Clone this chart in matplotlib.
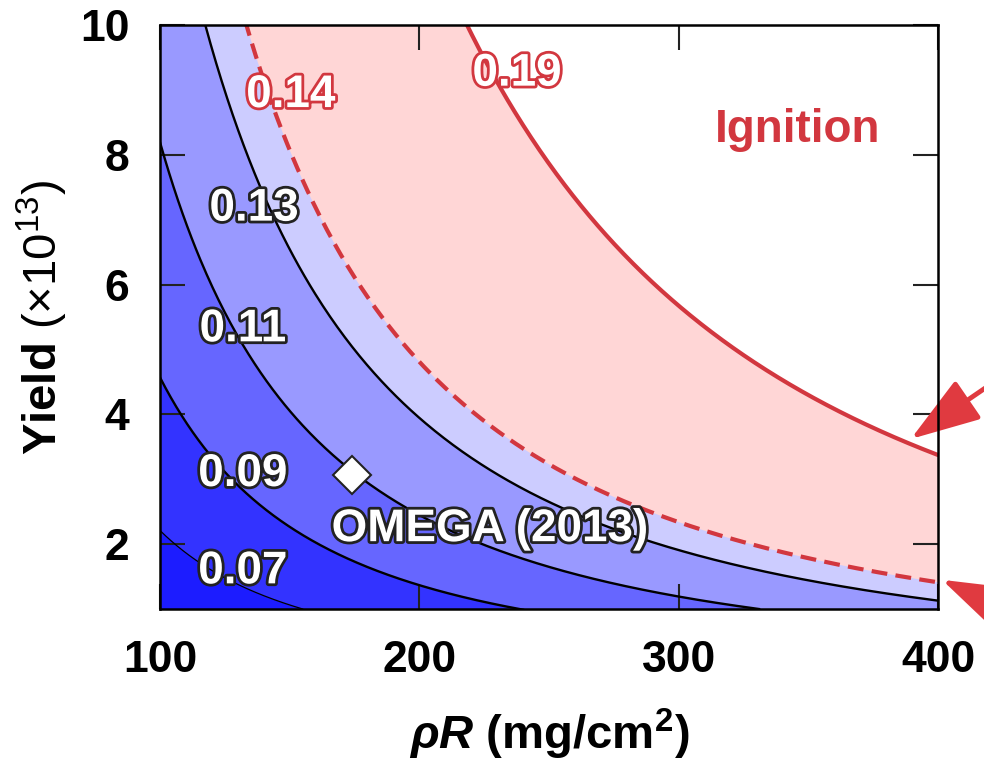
import numpy as np
import matplotlib
matplotlib.use('Agg')
import matplotlib.pyplot as plt
import matplotlib.patheffects as pe

plt.rcParams['font.family'] = ['Liberation Sans', 'DejaVu Sans']
plt.rcParams['font.weight'] = 'bold'
plt.rcParams['mathtext.fontset'] = 'custom'
plt.rcParams['mathtext.rm'] = 'Liberation Sans:weight=normal'
plt.rcParams['mathtext.it'] = 'Liberation Sans:italic:bold'
plt.rcParams['mathtext.bf'] = 'Liberation Sans:bold'

# contour lines of chi: (rhoR, yield) points along each level
chi_07_x = [100, 115, 130, 145, 155]
chi_07_y = [2.21, 1.72, 1.38, 1.13, 1.0]
chi_09_x = [100, 107.7, 120, 140, 161.4, 180, 199.8, 220, 240]
chi_09_y = [4.6, 4.0, 3.32, 2.56, 2.0, 1.65, 1.37, 1.15, 0.99]
chi_11_x = [100, 108, 119.2, 134, 151.8, 185, 224, 250, 277.5, 305, 331]
chi_11_y = [8.23, 7.15, 6.0, 4.95, 4.0, 2.81, 2.0, 1.64, 1.37, 1.16, 1.0]
chi_13_x = [117.4, 125, 134.2, 145, 157.6, 176, 198.8, 240, 292, 330, 358, 400]
chi_13_y = [10, 8.91, 8.0, 6.96, 6.0, 4.95, 4.0, 2.85, 2.0, 1.6, 1.37, 1.14]
chi_14_x = [132.8, 140, 151.4, 163, 176.7, 198, 221.8, 260, 300, 332, 360, 400]
chi_14_y = [10, 9.15, 8.0, 6.97, 6.0, 4.9, 4.0, 3.0, 2.32, 1.97, 1.70, 1.41]
chi_19_x = [217.6, 225, 234.3, 248.7, 265, 290, 320, 340, 362.9, 380, 400]
chi_19_y = [10, 9.41, 8.91, 8.0, 7.13, 6.0, 5.05, 4.5, 4.0, 3.70, 3.40]

omega_rhoR = 174
omega_yield = 3.06

# label positions for each contour
label_text = ['0.07', '0.09', '0.11', '0.13', '0.14', '0.19']
label_x = [132, 132, 132, 136.3, 150.5, 237.7]
label_y = [1.58, 3.08, 5.31, 7.17, 8.92, 9.25]

red = '#d2373f'
band_colors = ['#1c1cff', '#3333ff', '#6666ff', '#9999ff', '#ccccff', '#ffd6d6']


def smooth_curve(xp, yp, xs):
    # quadratic in log-log space through the read points
    c = np.polyfit(np.log(xp), np.log(yp), 2)
    y = np.exp(np.polyval(c, np.log(xs)))
    y = np.where(xs < xp[0], 20.0, y)
    y = np.where(xs > xp[-1], 0.5, y)
    return y


fig = plt.figure(figsize=(9.84, 7.62), dpi=100)
ax = fig.add_axes([0.1626, 0.2008, 0.9533 - 0.1626, 0.9672 - 0.2008])

curves = [(chi_07_x, chi_07_y), (chi_09_x, chi_09_y), (chi_11_x, chi_11_y),
          (chi_13_x, chi_13_y), (chi_14_x, chi_14_y), (chi_19_x, chi_19_y)]

xs = np.linspace(100, 400, 1201)
# fill from the top band downwards so each lower band covers the one above
for (cx, cy), col in reversed(list(zip(curves, band_colors))):
    ax.fill_between(xs, 0.5, smooth_curve(cx, cy, xs), color=col, lw=0, zorder=1)

line_styles = [
    dict(color='black', lw=0.9),
    dict(color='black', lw=1.7),
    dict(color='black', lw=1.7),
    dict(color='black', lw=1.7),
    dict(color=red, lw=3.0, linestyle=(0, (3.8, 2.0))),
    dict(color=red, lw=3.0),
]
for (cx, cy), st in zip(curves, line_styles):
    xl = np.linspace(cx[0], cx[-1], 400)
    ax.plot(xl, smooth_curve(cx, cy, xl), zorder=3, **st)

# contour value labels
for i, (t, lx, ly) in enumerate(zip(label_text, label_x, label_y)):
    edge = red if i >= 4 else '#222222'
    ax.text(lx, ly, t, fontsize=33, fontweight='bold', color='white',
            ha='center', va='center', zorder=6,
            path_effects=[pe.withStroke(linewidth=4, foreground=edge)])

ax.plot([omega_rhoR], [omega_yield], marker='D', markersize=19, color='white',
        markeredgecolor='#222222', markeredgewidth=1.5, zorder=5)
ax.text(227.3, 2.23, 'OMEGA (2013)', fontsize=33, fontweight='bold', color='white',
        ha='center', va='center', zorder=6,
        path_effects=[pe.withStroke(linewidth=4, foreground='#222222')])

ax.text(346, 8.38, 'Ignition', fontsize=33, fontweight='bold', color=red,
        ha='center', va='center', zorder=6)

# arrows coming in from the right margin
arrow_props = dict(arrowstyle='-|>,head_length=1.8,head_width=0.6', color='#e03a40',
                   lw=3.5, mutation_scale=24, shrinkA=0, shrinkB=0)
ax.annotate('', xy=(389.5, 3.62), xytext=(1070, 762 - 330), xycoords='data',
            textcoords='figure pixels', arrowprops=arrow_props, annotation_clip=False)
ax.annotate('', xy=(401.5, 1.45), xytext=(1070, 762 - 640), xycoords='data',
            textcoords='figure pixels', arrowprops=arrow_props, annotation_clip=False)

ax.set_xlim(100, 400)
ax.set_ylim(1, 10)
ax.set_xticks([100, 200, 300, 400])
ax.set_yticks([2, 4, 6, 8, 10])
ax.tick_params(direction='in', length=18, width=1.5, top=True, right=True,
               labelsize=32, color='#222222')
ax.tick_params(axis='x', pad=22)
ax.tick_params(axis='y', pad=22)
for lab in ax.get_xticklabels() + ax.get_yticklabels():
    lab.set_fontweight('bold')
for sp in ax.spines.values():
    sp.set_linewidth(1.8)
    sp.set_zorder(7)

ax.set_xlabel(r'$\rho R$ (mg/cm$^{\mathbf{2}}$)', fontsize=34, fontweight='bold', labelpad=19)
ax.set_ylabel(r'Yield $(\times10^{13})$', fontsize=34, fontweight='bold', labelpad=7)

fig.savefig('out.png', dpi=100)
